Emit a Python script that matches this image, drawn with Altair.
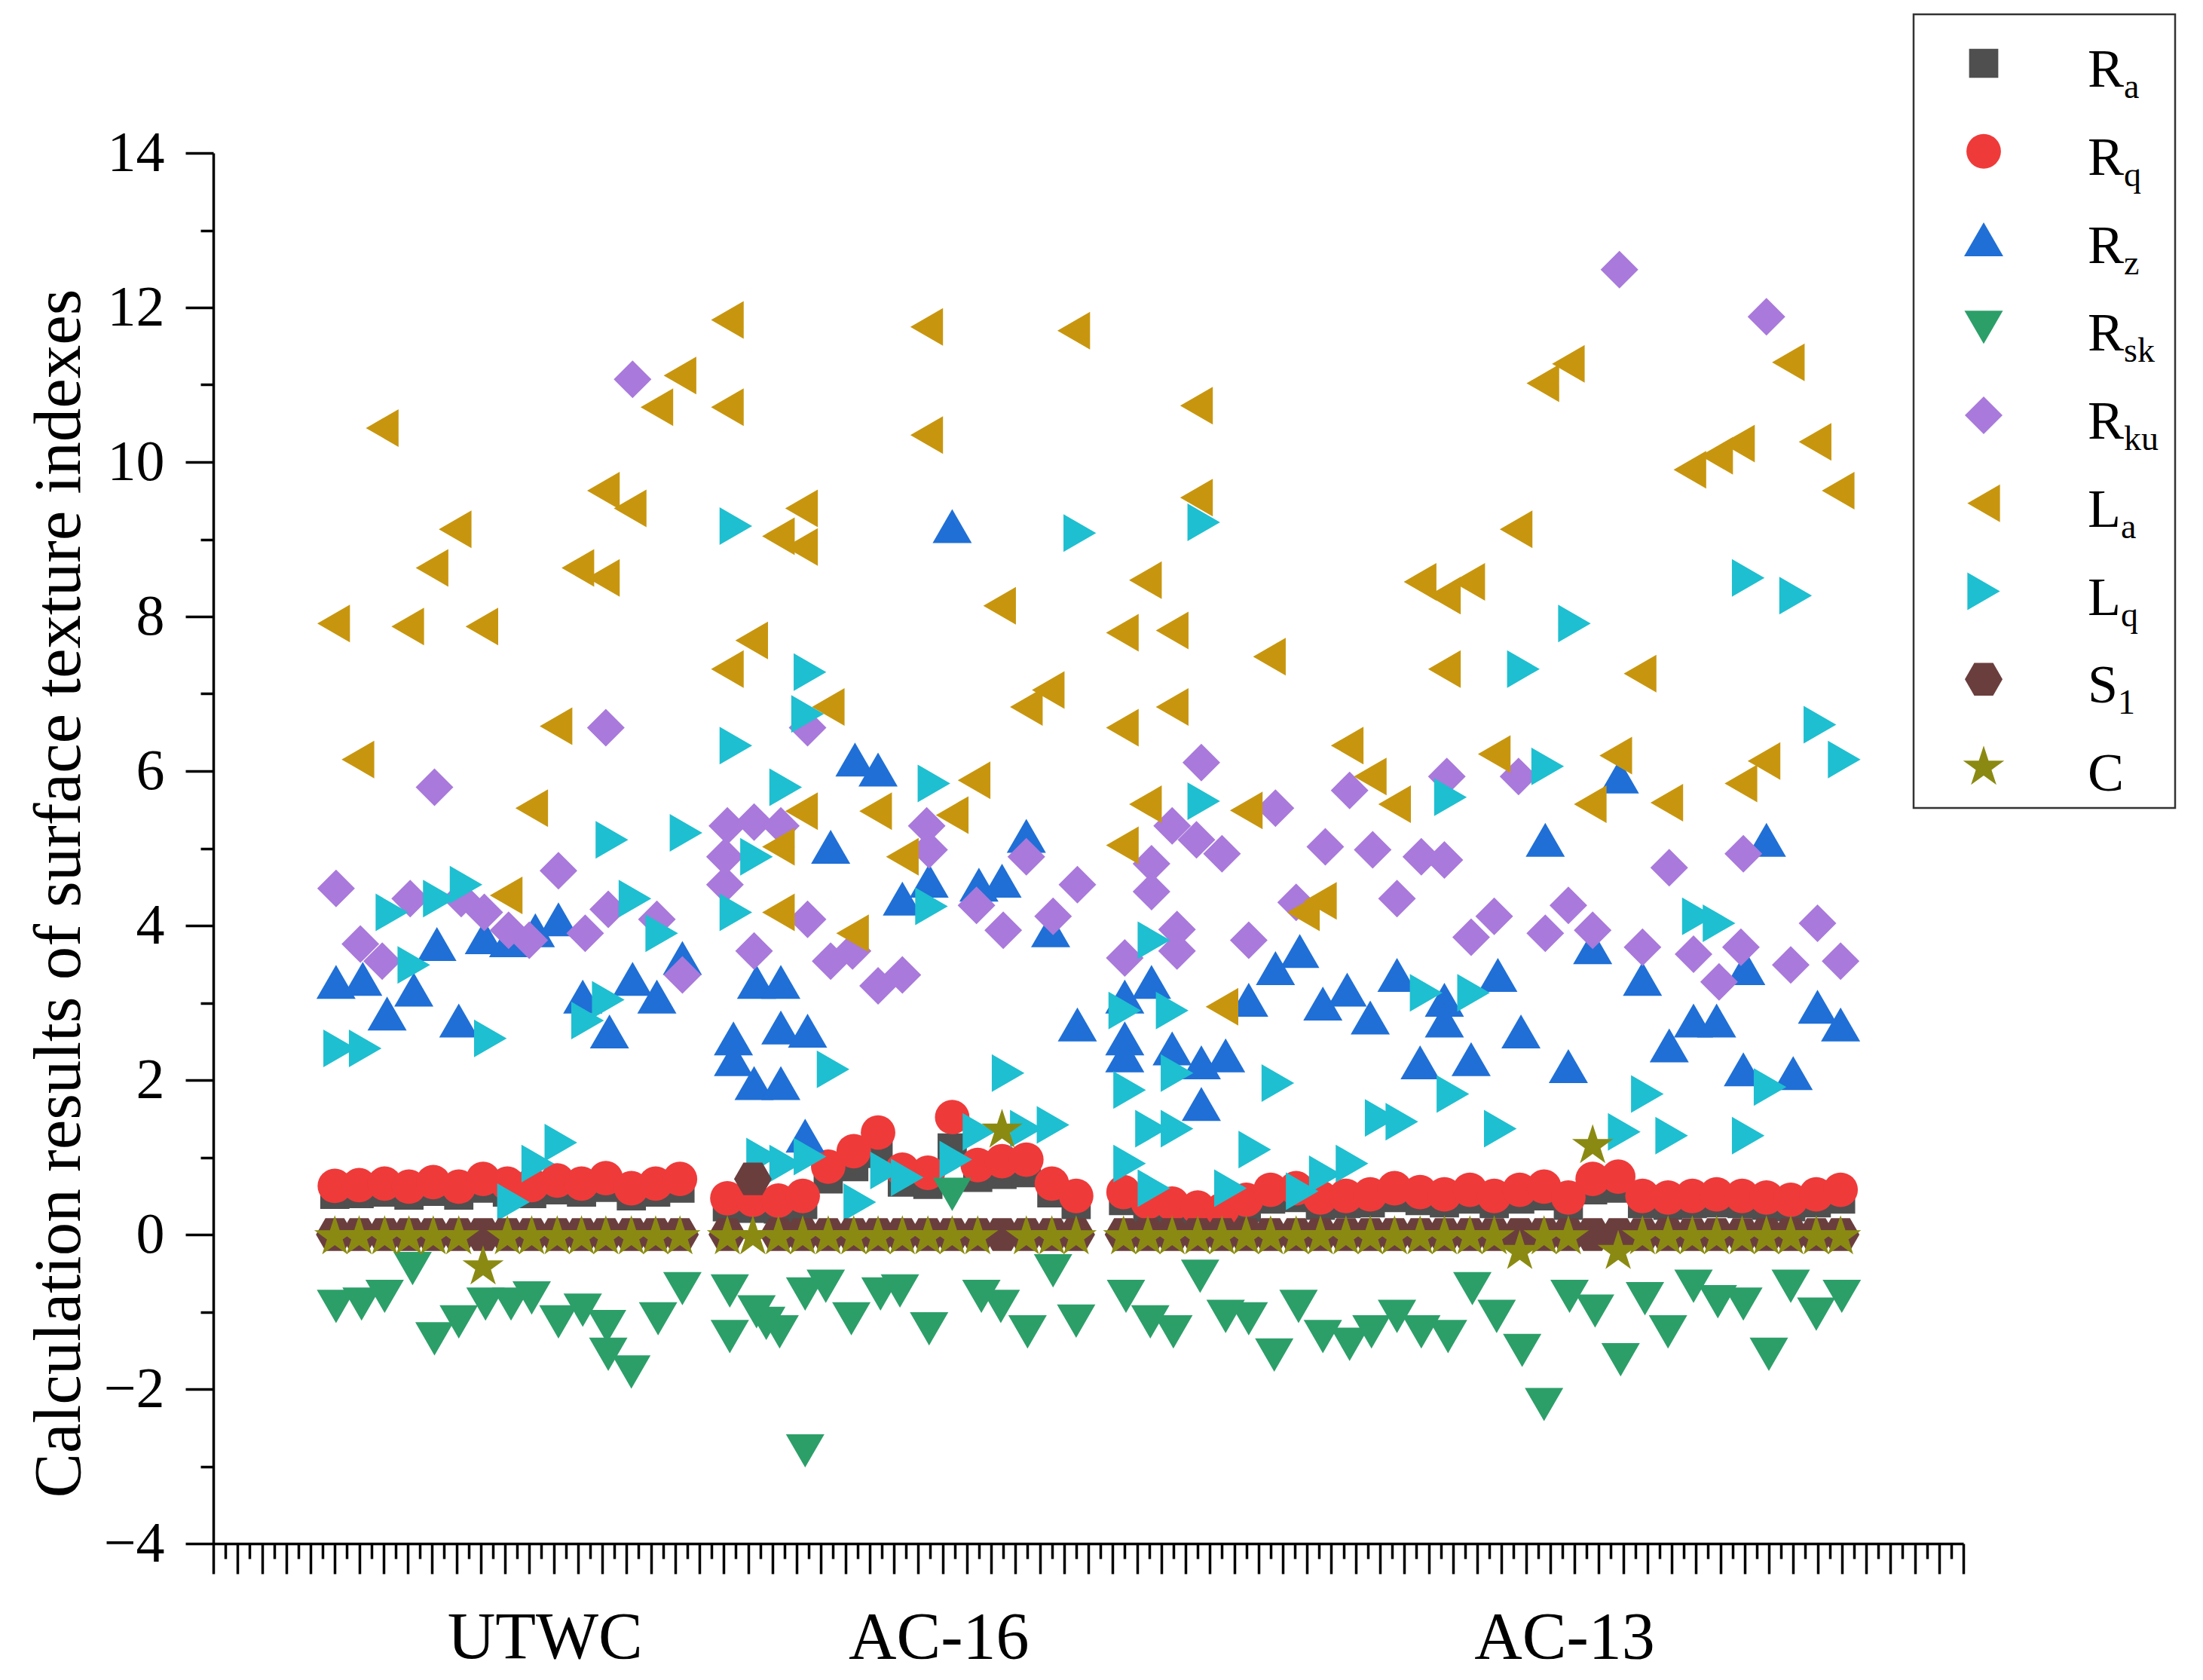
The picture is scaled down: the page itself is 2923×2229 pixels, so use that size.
import altair as alt
import pandas as pd

# ---------------- series definitions ----------------
SERIES = ["Ra", "Rq", "Rz", "Rsk", "Rku", "La", "Lq", "S1", "C"]
MAIN = ["R", "R", "R", "R", "R", "L", "L", "S", "C"]
SUB = ["a", "q", "z", "sk", "ku", "a", "q", "1", ""]

GROUP_LABELS = ["UTWC", "AC-16", "AC-13"]
GROUP_POS = [27.3, 59.7, 111.2]

# ---------------- sample positions for the near-zero series ----------------
SLOT_X = [10.0, 12.0, 14.1, 16.1, 18.1, 20.2, 22.2, 24.2, 26.2, 28.3, 30.3, 32.3, 34.4, 36.4, 38.4,
          42.3, 44.4, 46.5, 48.5, 50.6, 52.7, 54.7, 56.7, 58.8, 60.8, 62.9, 64.9, 66.9, 69.0, 71.0,
          74.9, 76.9, 78.9, 81.0, 83.0, 85.0, 87.0, 89.1, 91.1, 93.2, 95.2, 97.2, 99.3, 101.3, 103.4,
          105.4, 107.5, 109.5, 111.5, 113.5, 115.6, 117.6, 119.7, 121.7, 123.7, 125.8, 127.8, 129.8, 131.9, 133.9]

RA_Y = [0.52, 0.53, 0.55, 0.51, 0.56, 0.51, 0.60, 0.55, 0.53, 0.58, 0.55, 0.61, 0.50, 0.55, 0.60,
        0.36, 0.34, 0.33, 0.39, 0.72, 0.88, 1.05, 0.68, 0.65, 1.12, 0.74, 0.78, 0.80, 0.54, 0.39,
        0.44, 0.33, 0.31, 0.27, 0.25, 0.35, 0.46, 0.48, 0.38, 0.40, 0.41, 0.48, 0.44, 0.41, 0.46,
        0.40, 0.46, 0.50, 0.38, 0.58, 0.60, 0.40, 0.38, 0.40, 0.41, 0.40, 0.38, 0.36, 0.41, 0.46]

RQ_Y = [0.63, 0.64, 0.66, 0.62, 0.68, 0.62, 0.72, 0.66, 0.64, 0.70, 0.66, 0.73, 0.60, 0.66, 0.72,
        0.47, 0.45, 0.44, 0.50, 0.88, 1.08, 1.32, 0.84, 0.80, 1.52, 0.90, 0.95, 0.97, 0.66, 0.50,
        0.55, 0.42, 0.40, 0.35, 0.32, 0.45, 0.58, 0.60, 0.48, 0.50, 0.52, 0.60, 0.55, 0.52, 0.58,
        0.50, 0.58, 0.62, 0.48, 0.72, 0.75, 0.50, 0.48, 0.50, 0.52, 0.50, 0.48, 0.45, 0.52, 0.58]

S1_Y = [0.0, 0.0, 0.0, 0.0, 0.0, 0.0, 0.0, 0.0, 0.0, 0.0, 0.0, 0.0, 0.0, 0.0, 0.0,
        0.0, 0.72, 0.0, 0.0, 0.0, 0.0, 0.0, 0.0, 0.0, 0.0, 0.0, 0.0, 0.0, 0.0, 0.0,
        0.0, 0.0, 0.0, 0.0, 0.0, 0.0, 0.0, 0.0, 0.0, 0.0, 0.0, 0.0, 0.0, 0.0, 0.0,
        0.0, 0.0, 0.0, 0.0, 0.0, 0.0, 0.0, 0.0, 0.0, 0.0, 0.0, 0.0, 0.0, 0.0, 0.0]

C_Y = [-0.03, -0.03, -0.03, -0.03, -0.03, -0.03, -0.42, -0.03, -0.03, -0.03, -0.03, -0.03, -0.03, -0.03, -0.03,
       -0.03, -0.03, -0.03, -0.03, -0.03, -0.03, -0.03, -0.03, -0.03, -0.03, -0.03, 1.35, -0.03, -0.03, -0.03,
       -0.03, -0.03, -0.03, -0.03, -0.03, -0.03, -0.03, -0.03, -0.03, -0.03, -0.03, -0.03, -0.03, -0.03, -0.03,
       -0.03, -0.22, -0.03, -0.03, 1.15, -0.22, -0.03, -0.03, -0.03, -0.03, -0.03, -0.03, -0.03, -0.03, -0.03]

# ---------------- scattered series (x, y) ----------------
RZ_X = [10.1, 12.3, 14.3, 16.5, 18.4, 20.2, 22.3, 24.3, 26.5, 28.4, 30.4, 32.6, 34.5, 36.5, 38.6,
        42.8, 42.8, 44.5, 46.7, 44.7, 46.7, 46.7, 48.9, 48.7, 50.8, 52.8, 54.7, 56.7, 58.9, 60.8,
        63.0, 64.9, 66.9, 68.9, 71.1,
        109.6, 127.8, 115.7, 89.4, 87.4, 77.2, 75.0, 75.0, 75.0, 78.9, 81.3, 83.3, 81.3, 85.2, 91.3,
        93.3, 95.2, 97.4, 99.3, 101.3, 101.3, 103.5, 105.7, 107.6, 111.5, 113.5, 117.6, 119.8, 121.8,
        123.7, 125.9, 126.1, 130.0, 132.0, 133.9]
RZ_Y = [3.27, 3.31, 2.86, 3.17, 3.76, 2.77, 3.85, 3.81, 3.94, 4.08, 3.08, 2.63, 3.31, 3.08, 3.58,
        2.54, 2.27, 1.96, 1.96, 3.27, 3.27, 2.68, 2.64, 1.28, 5.02, 6.15, 6.02, 4.35, 4.58, 9.17,
        4.53, 4.58, 5.16, 3.94, 2.72,
        5.11, 5.11, 5.93, 3.67, 3.45, 3.27, 3.08, 2.54, 2.32, 2.41, 2.23, 2.32, 1.69, 3.04, 2.99,
        3.17, 2.81, 3.36, 2.23, 3.04, 2.77, 2.27, 3.36, 2.63, 2.18, 3.72, 3.31, 2.45, 2.77,
        2.77, 2.14, 3.45, 2.09, 2.95, 2.72]

RSK_X = [10.1, 12.2, 14.1, 16.4, 18.2, 20.2, 22.4, 24.5, 26.2, 28.4, 30.4, 32.4, 32.5, 34.4, 36.6, 38.6,
         42.5, 42.5, 44.7, 45.5, 46.6, 48.7, 48.7, 50.4, 52.5, 54.9, 56.5, 58.9, 60.8, 63.2, 64.8,
         67.0, 69.1, 71.0,
         75.1, 77.1, 79.0, 81.2, 83.3, 85.2, 87.3, 89.3, 91.3, 93.5, 95.3, 97.4, 99.4, 101.6, 103.6,
         105.6, 107.7, 109.5, 111.6, 113.7, 115.8, 117.8, 119.7, 121.8, 123.8, 125.9, 128.0, 129.8,
         131.9, 134.0]
RSK_Y = [-0.93, -0.90, -0.80, -0.44, -1.35, -1.13, -0.90, -0.90, -0.82, -1.13, -0.98, -1.19, -1.55, -1.78, -1.09, -0.70,
         -0.73, -1.32, -1.00, -1.15, -1.26, -0.77, -2.80, -0.67, -1.09, -0.77, -0.73, -1.22, 0.52, -0.80, -0.93,
         -1.26, -0.47, -1.12,
         -0.80, -1.13, -1.26, -0.54, -1.06, -1.09, -1.56, -0.93, -1.32, -1.42, -1.26, -1.06, -1.26, -1.32, -0.70,
         -1.06, -1.50, -2.20, -0.80, -0.99, -1.62, -0.83, -1.26, -0.67, -0.87, -0.90, -1.55, -0.67,
         -1.03, -0.80]

RKU_X = [10.1, 12.1, 13.9, 16.2, 18.2, 20.4, 22.3, 24.3, 26.0, 28.4, 30.6, 32.3, 32.5, 34.5, 36.5, 38.6,
         42.3, 44.5, 46.7, 42.1, 42.1, 48.9, 48.9, 44.5, 50.8, 52.6, 54.7, 56.7, 58.7, 58.9, 62.8,
         65.0, 66.9, 69.1, 71.1,
         115.7, 127.8, 81.3, 78.9, 80.9, 83.0, 77.2, 77.2, 87.4, 93.5, 101.5, 107.4, 91.5, 95.4, 99.4,
         101.3, 97.4, 89.1, 75.0, 79.3, 79.3, 85.2, 103.5, 105.4, 109.6, 111.5, 113.5, 117.6, 119.8,
         121.8, 123.9, 125.7, 125.9, 129.8, 132.0, 133.9]
RKU_Y = [4.48, 3.76, 3.54, 4.35, 5.79, 4.35, 4.17, 3.94, 3.81, 4.71, 3.90, 6.56, 4.21, 11.07, 4.08, 3.36,
         5.29, 5.34, 5.29, 4.89, 4.53, 6.56, 4.08, 3.67, 3.54, 3.67, 3.22, 3.36, 5.29, 4.98, 4.26,
         3.94, 4.89, 4.12, 4.53,
         12.49, 11.88, 6.11, 5.29, 5.11, 4.93, 4.80, 4.44, 5.52, 5.75, 5.93, 5.93, 5.02, 4.98, 4.89,
         4.85, 4.35, 4.30, 3.58, 3.67, 3.95, 3.81, 3.85, 4.12, 3.90, 4.26, 3.94, 3.72, 4.75,
         3.63, 3.27, 3.72, 4.93, 3.49, 4.03, 3.54]

LA_X = [9.9, 11.9, 13.9, 16.0, 18.0, 19.9, 22.1, 24.1, 26.2, 28.2, 30.0, 32.1, 32.1, 34.3, 36.5, 38.4,
        42.3, 42.3, 46.5, 48.4, 48.4, 42.3, 44.3, 50.6, 48.4, 46.5, 46.5, 52.6, 54.5, 56.7, 58.7,
        58.7, 60.8, 62.6, 64.7, 66.9, 68.7, 70.8,
        74.8, 74.8, 74.8, 76.7, 76.7, 78.9, 78.9, 80.9, 80.9, 83.0, 85.0, 86.9, 89.7, 91.1, 93.3,
        95.2, 97.2, 99.3, 101.3, 101.3, 103.3, 105.4, 107.2, 109.4, 111.5, 113.3, 115.4, 117.4, 119.6,
        121.5, 123.7, 125.5, 125.7, 127.6, 129.6, 131.8, 133.7]
LA_Y = [7.91, 6.15, 10.44, 7.87, 8.63, 9.13, 7.87, 4.39, 5.52, 6.58, 8.63, 8.50, 9.63, 9.40, 10.71, 11.12,
        11.84, 10.71, 9.04, 9.40, 8.90, 7.32, 7.69, 6.83, 5.48, 5.02, 4.17, 3.90, 5.48, 4.89, 11.75,
        10.35, 5.43, 5.88, 8.14, 6.83, 7.05, 11.70,
        7.79, 6.56, 5.04, 8.47, 5.57, 7.82, 6.83, 10.73, 9.54, 2.95, 5.49, 7.48, 4.17, 4.32, 6.33,
        5.93, 5.57, 8.45, 8.27, 7.32, 8.45, 6.22, 9.13, 11.02, 11.27, 5.57, 6.20, 7.26, 5.59,
        9.90, 10.08, 10.24, 5.84, 6.13, 11.29, 10.26, 9.63]

LQ_X = [10.4, 12.5, 14.7, 16.5, 18.6, 20.8, 22.8, 24.7, 26.7, 28.6, 30.8, 32.8, 32.5, 34.7, 36.9, 38.9,
        43.0, 43.0, 49.1, 48.9, 47.1, 44.7, 43.0, 51.0, 59.3, 59.1, 65.4, 71.3, 45.2, 47.1, 49.1,
        53.2, 55.4, 57.1, 61.1, 63.0, 66.9, 69.1,
        81.5, 81.5, 77.4, 75.0, 78.9, 75.4, 79.3, 77.2, 79.3, 75.4, 77.4, 83.7, 87.6, 85.7, 89.6,
        91.5, 93.7, 96.1, 97.8, 99.8, 101.8, 102.0, 103.7, 105.9, 107.8, 109.8, 112.0, 116.1, 118.0,
        120.0, 122.2, 123.9, 126.3, 126.3, 128.1, 130.2, 132.2, 134.2]
LQ_Y = [2.41, 2.41, 4.17, 3.49, 4.35, 4.53, 2.54, 0.42, 0.92, 1.19, 2.77, 5.11, 3.04, 4.35, 3.90, 5.20,
        9.17, 6.33, 7.28, 6.74, 5.79, 4.89, 4.17, 2.14, 5.84, 4.25, 2.09, 9.08, 1.01, 0.92, 1.01,
        0.42, 0.83, 0.74, 0.97, 1.33, 1.37, 1.42,
        9.22, 5.61, 3.81, 2.90, 2.90, 1.87, 2.09, 1.37, 1.37, 0.92, 0.60, 0.60, 1.96, 1.10, 0.56,
        0.78, 0.92, 1.51, 1.46, 3.13, 5.66, 1.82, 3.13, 1.37, 7.32, 6.06, 7.91, 1.33, 1.82,
        1.28, 4.12, 4.03, 8.50, 1.28, 1.91, 8.27, 6.60, 6.15]

# ---------------- styles ----------------
COLORS = ["#4f4f4f", "#ef3a3a", "#1f6fd6", "#2c9f69", "#a979db", "#c8960e", "#1ebfd0", "#6b3e3e", "#8a8a12"]
STAR = "M0,-1L0.2245,-0.309L0.951,-0.309L0.3633,0.118L0.5878,0.809L0,0.382L-0.5878,0.809L-0.3633,0.118L-0.951,-0.309L-0.2245,-0.309Z"
HEX = "M-1,0L-0.5,-0.866L0.5,-0.866L1,0L0.5,0.866L-0.5,0.866Z"
SHAPES = ["square", "circle", "triangle-up", "triangle-down", "diamond",
          "triangle-left", "triangle-right", HEX, STAR]
MARKER_AREA = {"Ra": 1500, "Rq": 2100, "Rz": 2700, "Rsk": 2600, "Rku": 2500,
               "La": 2500, "Lq": 2500, "S1": 2500, "C": 3300}

# ---------------- long table, drawn in legend order ----------------
series_xy = {
    "Ra": (SLOT_X, RA_Y), "Rq": (SLOT_X, RQ_Y), "Rz": (RZ_X, RZ_Y), "Rsk": (RSK_X, RSK_Y),
    "Rku": (RKU_X, RKU_Y), "La": (LA_X, LA_Y), "Lq": (LQ_X, LQ_Y), "S1": (SLOT_X, S1_Y), "C": (SLOT_X, C_Y),
}
rows = []
for name in SERIES:
    xs, ys = series_xy[name]
    for xv, yv in zip(xs, ys):
        rows.append({"series": name, "x": xv, "y": yv})
df = pd.DataFrame(rows)
df["sz"] = df["series"].map(MARKER_AREA)

# ---------------- layout (pixels) ----------------
W, H = 2322, 1845
FONT = "Liberation Serif"
LEG_SYM_X = 2349
LEG_TXT_X = 2487
LEG_Y0, LEG_Y1 = -119, 815

color_enc = alt.Color("series:N", scale=alt.Scale(domain=SERIES, range=COLORS), legend=None)
shape_enc = alt.Shape("series:N", scale=alt.Scale(domain=SERIES, range=SHAPES), legend=None)
size_enc = alt.Size("sz:Q", scale=None, legend=None)

x_axis = alt.Axis(
    values=list(range(0, 145)), labels=False, title=None, grid=False,
    tickSize={"condition": {"test": "datum.value % 2 === 0", "value": 40}, "value": 20},
    tickWidth=3.5, tickColor="black", domainColor="black", domainWidth=3.5,
)
y_axis = alt.Axis(
    values=list(range(-4, 15)), grid=False,
    labelExpr="datum.value % 2 === 0 ? datum.label : ''",
    tickSize={"condition": {"test": "datum.value % 2 === 0", "value": 37}, "value": 17},
    tickWidth=3.5, tickColor="black", domainColor="black", domainWidth=3.5,
    labelFont=FONT, labelFontSize=76, labelColor="black", labelPadding=28,
    title="Calculation results of surface texture indexes",
    titleFont=FONT, titleFontSize=89, titleFontWeight="normal", titleColor="black",
    titleX=-205, titleY=982, titleAngle=270, titleAlign="center", titleBaseline="middle",
)

x_scale = alt.Scale(domain=[0, 144], nice=False, zero=False)
y_scale = alt.Scale(domain=[-4, 14], nice=False, zero=False)

points = alt.Chart(df).mark_point(filled=True, opacity=1, strokeWidth=0).encode(
    x=alt.X("x:Q", scale=x_scale, axis=x_axis),
    y=alt.Y("y:Q", scale=y_scale, axis=y_axis),
    color=color_enc, shape=shape_enc, size=size_enc,
)

glabels = alt.Chart(pd.DataFrame({"label": GROUP_LABELS, "pos": GROUP_POS})).mark_text(
    font=FONT, fontSize=88, align="center", baseline="alphabetic", color="black"
).encode(
    x=alt.X("pos:Q", scale=x_scale, axis=None),
    y=alt.value(H + 152),
    text="label:N",
)

leg_df = pd.DataFrame({"series": SERIES, "main": MAIN, "sub": SUB, "order": list(range(len(SERIES)))})
leg_df["sz"] = leg_df["series"].map(MARKER_AREA)
leg_y = alt.Y("order:Q", scale=alt.Scale(domain=[0, len(SERIES) - 1], range=[LEG_Y0, LEG_Y1], nice=False, zero=False), axis=None)

box = alt.Chart(pd.DataFrame({"k": [0]})).mark_rect(
    fillOpacity=0, stroke="#333333", strokeWidth=2.5
).encode(
    x=alt.value(2256), x2=alt.value(2603), y=alt.value(-184), y2=alt.value(869)
)

leg_sym = alt.Chart(leg_df).mark_point(filled=True, opacity=1, strokeWidth=0).encode(
    x=alt.value(LEG_SYM_X), y=leg_y, color=color_enc, shape=shape_enc, size=size_enc,
)

leg_main = alt.Chart(leg_df).mark_text(
    font=FONT, fontSize=72, align="left", baseline="alphabetic", dy=31, color="black"
).encode(x=alt.value(LEG_TXT_X), y=leg_y, text="main:N")

leg_sub = alt.Chart(leg_df).transform_calculate(
    sx=f"{LEG_TXT_X} + (datum.main === 'R' ? 48 : (datum.main === 'L' ? 44 : 40))"
).mark_text(
    font=FONT, fontSize=46, align="left", baseline="alphabetic", dy=46, color="black"
).encode(x=alt.X("sx:Q", scale=None, axis=None), y=leg_y, text="sub:N")

chart = alt.layer(points, glabels, box, leg_sym, leg_main, leg_sub).resolve_scale(
    x="independent", y="independent"
).properties(
    width=W, height=H,
    autosize=alt.AutoSizeParams(type="none"),
    padding={"left": 275, "top": 195, "right": 300, "bottom": 170},
    background="white",
).configure_view(stroke=None)

chart.save("out.html", embed_options={"renderer": "svg", "actions": False})
